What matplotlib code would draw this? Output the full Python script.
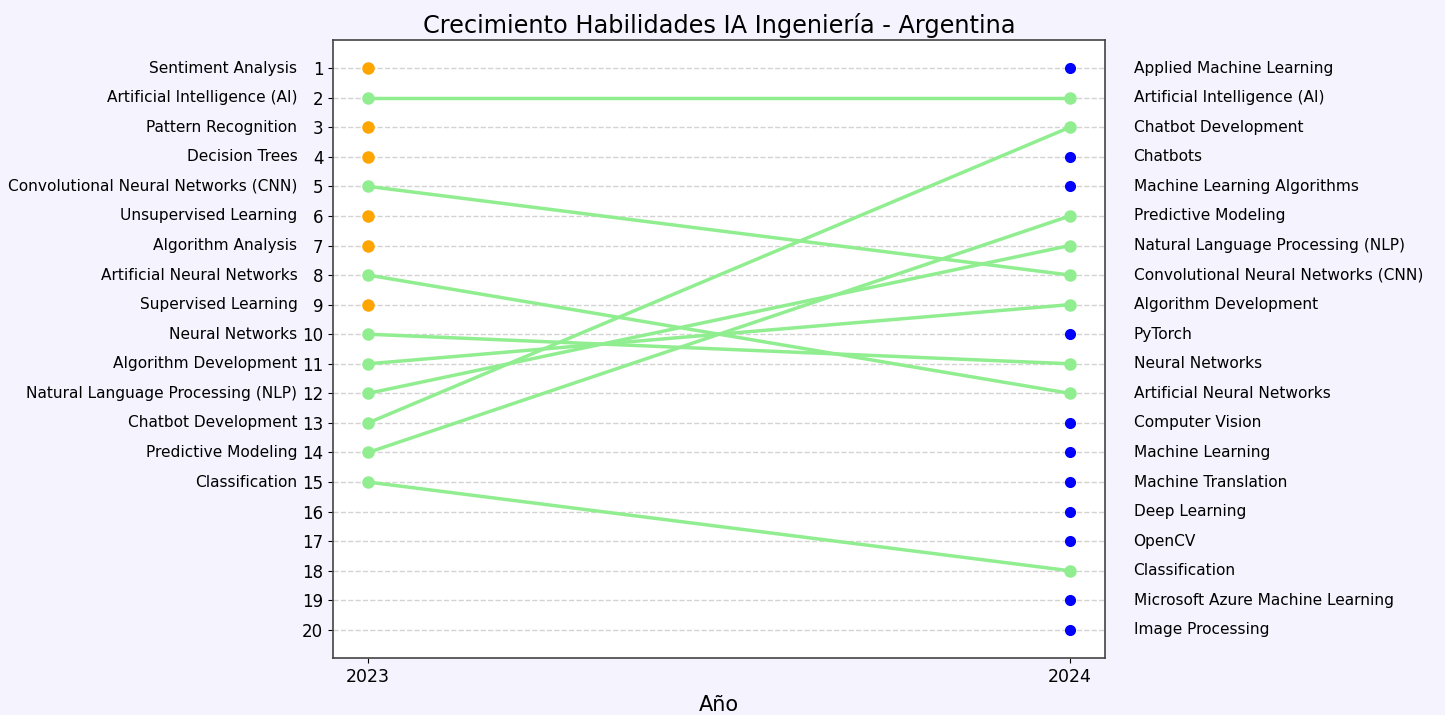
import matplotlib
matplotlib.use("Agg")
import matplotlib.pyplot as plt

years = [2023, 2024]
skills_2023 = ["Sentiment Analysis", "Artificial Intelligence (AI)", "Pattern Recognition",
               "Decision Trees", "Convolutional Neural Networks (CNN)", "Unsupervised Learning",
               "Algorithm Analysis", "Artificial Neural Networks", "Supervised Learning",
               "Neural Networks", "Algorithm Development", "Natural Language Processing (NLP)",
               "Chatbot Development", "Predictive Modeling", "Classification"]
skills_2024 = ["Applied Machine Learning", "Artificial Intelligence (AI)", "Chatbot Development",
               "Chatbots", "Machine Learning Algorithms", "Predictive Modeling",
               "Natural Language Processing (NLP)", "Convolutional Neural Networks (CNN)",
               "Algorithm Development", "PyTorch", "Neural Networks", "Artificial Neural Networks",
               "Computer Vision", "Machine Learning", "Machine Translation", "Deep Learning",
               "OpenCV", "Classification", "Microsoft Azure Machine Learning", "Image Processing"]

bg = "#f5f3fe"
fig = plt.figure(figsize=(14.45, 7.15), dpi=100, facecolor=bg)
ax = fig.add_axes([333 / 1445, 57 / 715, 772 / 1445, 618 / 715])

# lines for skills present both years
for i, s in enumerate(skills_2023):
    r1 = i + 1
    if s in skills_2024:
        r2 = skills_2024.index(s) + 1
        ax.plot(years, [r1, r2], color="lightgreen", linewidth=2.5, marker="o", markersize=8, zorder=3)
    else:
        ax.plot(years[0], r1, "o", color="orange", markersize=8, zorder=3)
for j, s in enumerate(skills_2024):
    if s not in skills_2023:
        ax.plot(years[1], j + 1, "o", color="blue", markersize=7, zorder=3)

n = len(skills_2024)
ax.set_yticks(range(1, n + 1))
ax.set_yticklabels([str(k) for k in range(1, n + 1)], fontsize=12)
ax.set_ylim(20.95, 0.05)
ax.set_xlim(2022.95, 2024.05)
ax.set_xticks(years)
ax.set_xticklabels([str(y) for y in years], fontsize=12.5)
ax.grid(axis="y", linestyle="--", color="lightgray", linewidth=1)
ax.set_axisbelow(True)
for sp in ax.spines.values():
    sp.set_color("#444444")
    sp.set_linewidth(1.2)

for i, s in enumerate(skills_2023):
    ax.text(-0.046, i + 1, s, transform=ax.get_yaxis_transform(), ha="right", va="center", fontsize=11.1)
for j, s in enumerate(skills_2024):
    ax.text(1.037, j + 1, s, transform=ax.get_yaxis_transform(), ha="left", va="center", fontsize=11.1)

ax.set_title("Crecimiento Habilidades IA Ingeniería - Argentina", fontsize=17.3, pad=5)
ax.set_xlabel("Año", fontsize=15, labelpad=7)

fig.savefig("out.png", dpi=100, facecolor=bg)
